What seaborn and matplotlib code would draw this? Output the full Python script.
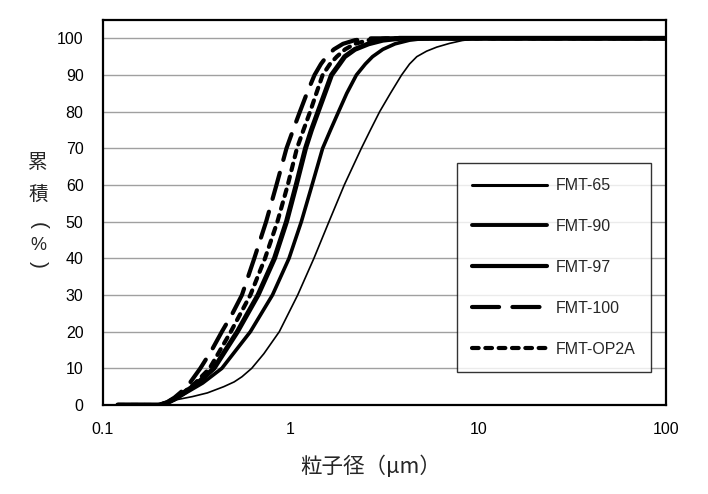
import numpy as np
import pandas as pd
import matplotlib
matplotlib.use("Agg")
import matplotlib.pyplot as plt
import seaborn as sns

sns.set_theme(style="white")
plt.rcParams['font.family'] = ['Liberation Sans', 'Noto Sans CJK JP', 'DejaVu Sans']

# ---- data (particle size in µm, cumulative %) ----
size_65 = [0.12, 0.20, 0.22, 0.25, 0.30, 0.36, 0.44, 0.50, 0.55, 0.62, 0.72, 0.87, 1.09, 1.33, 1.60, 1.93,
           2.38, 2.66, 2.98, 3.40, 3.90, 4.30, 4.70, 5.30, 6.00, 7.00, 8.20, 10.0, 20.0, 100.0]
cum_65 = [0, 0, 0.5, 1.5, 2.3, 3.3, 5, 6.3, 7.7, 10, 14, 20, 30, 40, 50, 60,
          70, 75, 80, 85, 90, 93, 95, 96.5, 97.6, 98.6, 99.4, 100, 100, 100]

size_90 = [0.12, 0.20, 0.22, 0.24, 0.27, 0.34, 0.43, 0.61, 0.80, 0.98, 1.14, 1.30, 1.48, 1.63, 1.80, 1.99,
           2.24, 2.50, 2.73, 3.10, 3.60, 4.30, 5.20, 10.0, 100.0]
cum_90 = [0, 0, 0.6, 1.5, 3, 6, 10, 20, 30, 40, 50, 60, 70, 75, 80, 85,
          90, 93, 95, 97, 98.5, 99.5, 100, 100, 100]

size_97 = [0.12, 0.20, 0.22, 0.24, 0.27, 0.32, 0.39, 0.52, 0.67, 0.82, 0.95, 1.07, 1.20, 1.29, 1.40, 1.52,
           1.65, 1.82, 1.94, 2.20, 2.60, 3.10, 3.80, 10.0, 100.0]
cum_97 = [0, 0, 0.6, 1.6, 3.3, 6, 10, 20, 30, 40, 50, 60, 70, 75, 80, 85,
          90, 93, 95, 97, 98.5, 99.5, 100, 100, 100]

size_100 = [0.12, 0.20, 0.22, 0.24, 0.26, 0.29, 0.33, 0.38, 0.43, 0.49, 0.55, 0.64, 0.74, 0.84, 0.95, 1.03,
            1.12, 1.22, 1.34, 1.45, 1.55, 1.70, 1.90, 2.20, 2.70, 10.0, 100.0]
cum_100 = [0, 0, 0.8, 2, 3.5, 6, 10, 15, 20, 25, 30, 40, 50, 60, 70, 75,
           80, 85, 90, 93, 95, 97, 98.5, 99.5, 100, 100, 100]

size_op2a = [0.12, 0.20, 0.22, 0.24, 0.27, 0.31, 0.37, 0.48, 0.61, 0.73, 0.85, 0.965, 1.08, 1.17, 1.27, 1.37,
             1.48, 1.62, 1.76, 1.95, 2.20, 2.60, 3.20, 10.0, 100.0]
cum_op2a = [0, 0, 0.7, 1.8, 3.5, 6, 10, 20, 30, 40, 50, 60, 70, 75, 80, 85,
            90, 93, 95, 97, 98.5, 99.5, 100, 100, 100]

labels = ["FMT-65", "FMT-90", "FMT-97", "FMT-100", "FMT-OP2A"]
xticks = [0.1, 1, 10, 100]
xtick_labels = ["0.1", "1", "10", "100"]
yticks = list(range(0, 101, 10))

series = [
    (size_65, cum_65, dict(lw=1.2, ls='-')),
    (size_90, cum_90, dict(lw=2.6, ls='-')),
    (size_97, cum_97, dict(lw=3.6, ls='-')),
    (size_100, cum_100, dict(lw=3.0, ls=(0, (6.5, 3.2)), dash_capstyle='round')),
    (size_op2a, cum_op2a, dict(lw=3.0, ls=(0, (1.6, 1.6)), dash_capstyle='round')),
]

fig = plt.figure(figsize=(7.08, 4.94), dpi=100)
ax = fig.add_axes([103/708, 89/494, (666-103)/708, (405-20)/494])

for (xs, ys, st), lab in zip(series, labels):
    df = pd.DataFrame({"size": xs, "cum": ys})
    sns.lineplot(data=df, x="size", y="cum", ax=ax, color="black", label=lab,
                 sort=False, estimator=None, solid_capstyle='round',
                 solid_joinstyle='round', **st)

ax.set_xscale("log")
ax.set_xlim(0.1, 100)
ax.set_ylim(0, 105)
ax.set_xticks(xticks)
ax.set_xticklabels(xtick_labels)
ax.minorticks_off()
ax.set_yticks(yticks)
ax.yaxis.grid(True, color="#a0a0a0", lw=1.0)
ax.xaxis.grid(False)
ax.set_axisbelow(True)
for sp in ax.spines.values():
    sp.set_color("black")
    sp.set_linewidth(1.6)
ax.tick_params(axis='x', direction='in', length=5, width=1, colors='black',
               labelsize=11.5, pad=12)
ax.tick_params(axis='y', direction='out', length=0, labelsize=11.5, pad=14,
               colors='black')
ax.set_xlabel("")
ax.set_ylabel("")

leg = ax.legend(loc="upper left", frameon=True, fancybox=False, edgecolor="black",
                fontsize=11.5, handlelength=4.7, handletextpad=0.55, labelspacing=1.62,
                borderpad=0.95, borderaxespad=0)
leg.get_frame().set_linewidth(1.0)
leg.set_bbox_to_anchor(((457-103)/563, (405-163)/385), transform=ax.transAxes)
leg.get_lines()[0].set_linewidth(2.2)
leg.get_lines()[1].set_linewidth(2.8)
leg.get_lines()[2].set_linewidth(3.0)

fig.text(371/708, 1 - 467/494, "粒子径（μm）", ha="center", va="center", fontsize=15.5,
         family=['Noto Sans CJK JP', 'DejaVu Sans'])

cjk = ['Noto Sans CJK JP', 'DejaVu Sans']
fig.text(38/708, 1 - 163/494, "累", ha="center", va="center", fontsize=14, family=cjk)
fig.text(38/708, 1 - 194/494, "積", ha="center", va="center", fontsize=14, family=cjk)
fig.text(38/708, 1 - 225/494, "(", ha="center", va="center", fontsize=15, rotation=-90,
         family=['Liberation Sans'])
fig.text(38/708, 1 - 245/494, "%", ha="center", va="center", fontsize=13,
         family=['Liberation Sans'])
fig.text(38/708, 1 - 264/494, ")", ha="center", va="center", fontsize=15, rotation=-90,
         family=['Liberation Sans'])

fig.savefig("out.png", dpi=100)
